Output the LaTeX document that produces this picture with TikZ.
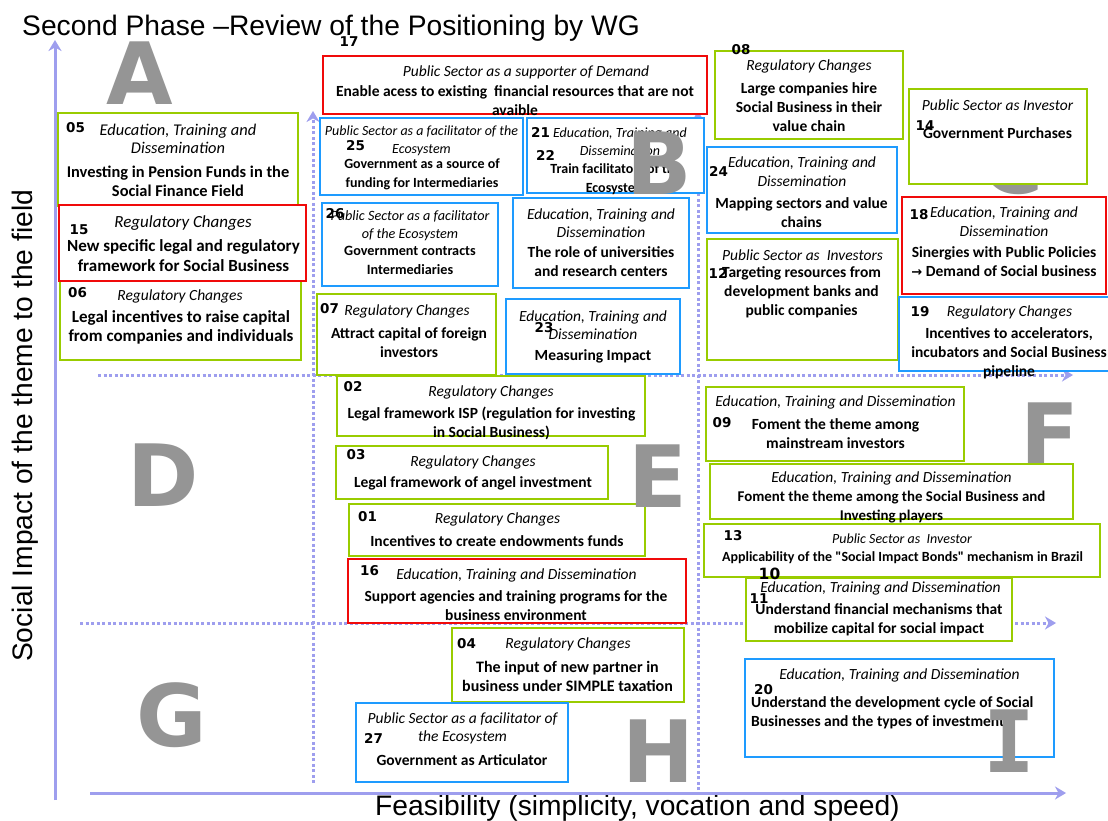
\documentclass[tikz,border=0pt]{standalone}
\usepackage{fontspec}
\newfontfamily\cf{Carlito}
\newfontfamily\arialf{Liberation Sans}
\newfontfamily\dvs{DejaVu Sans}
\newfontfamily\dvm{DejaVu Sans Mono}
\usetikzlibrary{arrows.meta}
\definecolor{gcol}{RGB}{153,204,0}
\definecolor{bcol}{RGB}{30,155,255}
\definecolor{rcol}{RGB}{240,10,10}
\definecolor{axcol}{RGB}{158,158,238}
\definecolor{letgray}{RGB}{149,149,149}
\newcommand\bx[6]{\node[#2, minimum width={#5-#3}, minimum height={#6-#4}] (#1) at ({(#3+#5)/2},{(#4+#6)/2}) {};}
\tikzset{
  bx/.style={draw, line width=2pt, fill=white, inner sep=0pt, outer sep=0pt},
  gb/.style={bx, draw=gcol},
  bb/.style={bx, draw=bcol},
  rb/.style={bx, draw=rcol},
  cat/.style={font=\cf\itshape\fontsize{15.5}{18.5}\selectfont, align=center, inner sep=0pt},
  ttl/.style={font=\cf\bfseries\fontsize{15.5}{19}\selectfont, align=center, inner sep=0pt},
  cats/.style={cat, font=\cf\itshape\fontsize{#1}{18}\selectfont},
  ttls/.style={ttl, font=\cf\bfseries\fontsize{#1}{19}\selectfont},
  num/.style={font=\dvs\bfseries\fontsize{13.5}{13.5}\selectfont, inner sep=0pt},
  big/.style={font=\dvs\bfseries\fontsize{86}{86}\selectfont, text=letgray, inner sep=0pt},
  axis/.style={draw=axcol, line width=3pt, -{Stealth[length=11pt,width=13pt]}},
  grid/.style={draw=axcol, line width=3pt, dash pattern=on 3pt off 2.5pt, -{Stealth[length=11pt,width=13pt]}},
  lab/.style={font=\arialf\fontsize{28.2}{28.2}\selectfont, inner sep=0pt}
}
\begin{document}
\begin{tikzpicture}[x=1pt,y=-1pt]
\useasboundingbox[fill=white] (0,0) rectangle (1108,820);
% letters behind boxes
\node[big] (C) at (1012,162) {C};
\node[big] (F) at (1049.5,434.5) {F};
% labels
\node[lab, anchor=base west] (title) at (22,35) {Second Phase –Review of the Positioning by WG};
\node[lab, anchor=base west] (xlab) at (375,815) {Feasibility (simplicity, vocation and speed)};
\node[lab, anchor=base west, rotate=90] (ylab) at (32,662) {Social Impact of the theme to the field};
% axes and grid
\coordinate (yA) at (55,800); \coordinate (yB) at (55,40);
\coordinate (xA) at (90,793); \coordinate (xB) at (1066,793);
\coordinate (v1A) at (313,783); \coordinate (v1B) at (313,111);
\coordinate (v2A) at (698,790); \coordinate (v2B) at (698,111);
\coordinate (h1A) at (98,375); \coordinate (h1B) at (1073,375);
\coordinate (h2A) at (80,623); \coordinate (h2B) at (1056,623);
\draw[axis] (yA) -- (yB);
\draw[axis] (xA) -- (xB);
\draw[grid] (v1A) -- (v1B);
\draw[grid] (v2A) -- (v2B);
\draw[grid] (h1A) -- (h1B);
\draw[grid] (h2A) -- (h2B);
% ---- boxes ----
\bx{b17}{rb}{323}{56}{707}{114}
\node[cat] (c17) at (526,72) {Public Sector as a supporter of Demand};
\node[ttl] (t17) at (515,100.5) {Enable acess to existing\ \ financial resources that are not\\avaible};
\node[num] (n17) at (349,42) {17};

\bx{b25}{bb}{320}{118}{523}{195}
\node[cats=14] (c25) at (421.5,140.5) {Public Sector as a facilitator of the\\Ecosystem};
\node[num] (n25) at (355.5,146) {25};
\node[ttls=14] (t25) at (422,174.5) {Government as a source of\\funding for Intermediaries};

\bx{b21}{bb}{527}{118}{704}{193}
\node[num] (n21) at (540.5,132) {21};
\node[cats=14] (c21) at (620,142) {Education, Training and\\Dissemination};
\node[num] (n22) at (545.5,155) {22};
\node[ttls=14] (t21) at (616,179.5) {Train facilitators of the\\Ecosystem};

\bx{b26}{bb}{322}{203}{498}{286}
\node[cats=14.2] (c26) at (410,226) {Public Sector as a facilitator\\of the Ecosystem};
\node[num] (n26) at (335,214) {26};
\node[ttls=14.2] (t26) at (410,260) {Government contracts\\Intermediaries};

\bx{bun}{bb}{513}{198}{689}{288}
\node[cat] (cun) at (601,223) {Education, Training and\\Dissemination};
\node[ttl] (tun) at (601,261.5) {The role of universities\\and research centers};

\bx{b07}{gb}{317}{294}{496}{375}
\node[num] (n07) at (329.5,309) {07};
\node[cat] (c07) at (407,311) {Regulatory Changes};
\node[ttl] (t07) at (409,342.5) {Attract capital of foreign\\investors};

\bx{b23}{bb}{506}{299}{680}{374}
\node[cat] (c23) at (593,325) {Education, Training and\\Dissemination};
\node[num] (n23) at (544,328) {23};
\node[ttl] (t23) at (593,356) {Measuring Impact};

\bx{b05}{gb}{58}{113}{298}{206}
\node[num] (n05) at (75.5,127.5) {05};
\node[cats=16.4] (c05) at (178,139) {Education, Training and\\Dissemination};
\node[ttls=16.4] (t05) at (178,181) {Investing in Pension Funds in the\\Social Finance Field};

\bx{b06}{gb}{60}{279}{301}{360}
\node[num] (n06) at (77.5,293) {06};
\node[cat] (c06) at (180,296) {Regulatory Changes};
\node[ttl, font=\cf\bfseries\fontsize{17}{19.5}\selectfont] (t06) at (181,327.5) {Legal incentives to raise capital\\from companies and individuals};

\bx{b15}{rb}{59}{205}{306}{281}
\node[num] (n15) at (79,230) {15};
\node[cats=17] (c15) at (183,223) {Regulatory Changes};
\node[ttl, font=\cf\bfseries\fontsize{17}{20}\selectfont] (t15) at (183.5,256) {New specific legal and regulatory\\framework for Social Business};

\bx{b08}{gb}{715}{51}{903}{139}
\node[num] (n08) at (741,49.5) {08};
\node[cat] (c08) at (809,66) {Regulatory Changes};
\node[ttl] (t08) at (809,107.5) {Large companies hire\\Social Business in their\\value chain};

\bx{b14}{gb}{909}{89}{1087}{184}
\node[cat] (c14) at (997.5,105) {Public Sector as Investor};
\node[num] (n14) at (925,126) {14};
\node[ttl] (t14) at (997.5,133) {Government Purchases};

\bx{b24}{bb}{707}{147}{897}{233}
\node[num] (n24) at (718.5,171) {24};
\node[cat] (c24) at (802,171.5) {Education, Training and\\Dissemination};
\node[ttl] (t24) at (801.5,212.5) {Mapping sectors and value\\chains};

\bx{b18}{rb}{902}{197}{1106}{294}
\node[num] (n18) at (919,215) {18};
\node[cat] (c18) at (1004,221.5) {Education, Training and\\Dissemination};
\node[ttl] (t18) at (1004,261.5) {Sinergies with Public Policies\\{\dvs\bfseries\fontsize{13}{13}\selectfont →} Demand of Social business};

\bx{b12}{gb}{707}{239}{898}{360}
\node[cat] (c12) at (802.5,255) {Public Sector as\ \ Investors};
\node[num] (n12) at (718,273) {12};
\node[ttl] (t12) at (801.5,292.5) {Targeting resources from\\development banks and\\public companies};

\bx{b19}{bb}{899}{297}{1118}{371}
\node[num] (n19) at (920,312) {19};
\node[cat] (c19) at (1009.5,312) {Regulatory Changes};
\node[ttl] (t19) at (1009,353) {Incentives to accelerators,\\incubators and Social Business\\pipeline};

\bx{b02}{gb}{337}{376}{645}{436}
\node[num] (n02) at (353,387) {02};
\node[cat] (c02) at (491,392) {Regulatory Changes};
\node[ttl] (t02) at (491.5,423.5) {Legal framework ISP (regulation for investing\\in Social Business)};

\bx{b03}{gb}{336}{446}{608}{499}
\node[num] (n03) at (356,455) {03};
\node[cat] (c03) at (473,462) {Regulatory Changes};
\node[ttl] (t03) at (473,483) {Legal framework of angel investment};

\bx{b01}{gb}{349}{504}{645}{556}
\node[num] (n01) at (367.5,517) {01};
\node[cat] (c01) at (497.5,519) {Regulatory Changes};
\node[ttl] (t01) at (497,541) {Incentives to create endowments funds};

\bx{b16}{rb}{348}{559}{686}{623}
\node[num] (n16) at (369.5,571) {16};
\node[cat] (c16) at (516.5,575) {Education, Training and Dissemination};
\node[ttl] (t16) at (516,606) {Support agencies and training programs for the\\business environment};

\bx{b04}{gb}{452}{628}{684}{702}
\node[num] (n04) at (466.5,644) {04};
\node[cat] (c04) at (568,644) {Regulatory Changes};
\node[ttls=16] (t04) at (567.5,676) {The input of new partner in\\business under SIMPLE taxation};

\bx{b27}{bb}{356}{703}{568}{782}
\node[cat] (c27) at (462.5,728.5) {Public Sector as a facilitator of\\the Ecosystem};
\node[num] (n27) at (373.5,738) {27};
\node[ttl] (t27) at (462,760) {Government as Articulator};

\bx{b09}{gb}{706}{387}{964}{461}
\node[cat] (c09) at (835.5,402) {Education, Training and Dissemination};
\node[num] (n09) at (722,423) {09};
\node[ttl] (t09) at (835.5,433.5) {Foment the theme among\\mainstream investors};

\bx{bfs}{gb}{710}{464}{1073}{519}
\node[cat] (cfs) at (891.5,478) {Education, Training and Dissemination};
\node[ttls=14.9] (tfs) at (891.5,507.5) {Foment the theme among the Social Business and\\Investing players};

\bx{b13}{gb}{704}{524}{1100}{577}
\node[num] (n13) at (733,535.5) {13};
\node[cats=14] (c13) at (902,539) {Public Sector as\ \ Investor};
\node[ttls=14] (t13) at (902.5,558) {Applicability of the "Social Impact Bonds" mechanism in Brazil};

\bx{b10}{gb}{746}{578}{1012}{641}
\node[num, font=\dvs\bfseries\fontsize{15.5}{15.5}\selectfont] (n10) at (769.5,573.5) {10};
\node[cat] (c10) at (880.5,588) {Education, Training and Dissemination};
\node[num] (n11) at (759,599) {11};
\node[ttl] (t10) at (879,620) {Understand financial mechanisms that\\mobilize capital for social impact};

\bx{b20}{bb}{745}{659}{1054}{757}
\node[cat] (c20) at (899.5,675) {Education, Training and Dissemination};
\node[num] (n20) at (763.5,689.5) {20};
\node[ttl, align=left, anchor=west] (t20) at (751,712.5) {Understand the development cycle of Social\\Businesses and the types of investments};

% letters on top
\node[big] (A) at (139.5,73.5) {A};
\node[big] (B) at (659.5,163) {B};
\node[big] (D) at (163,475) {D};
\node[big] (E) at (657.5,476) {E};
\node[big] (G) at (172,715.5) {G};
\node[big] (H) at (658.5,751.5) {H};
\node[big, font=\dvm\bfseries\fontsize{86}{86}\selectfont] (I) at (1009,741.5) {I};
\end{tikzpicture}
\end{document}
